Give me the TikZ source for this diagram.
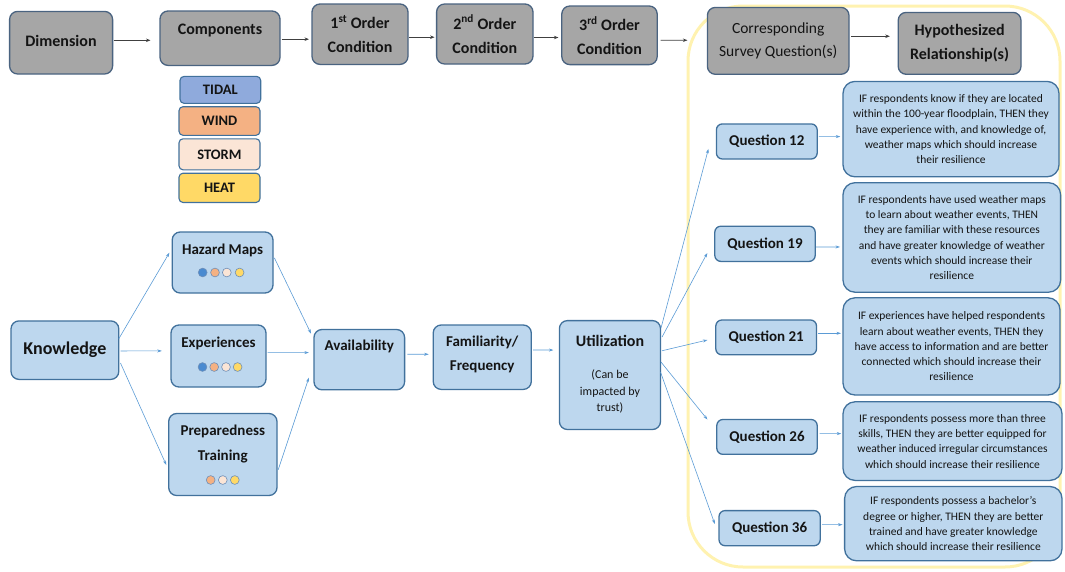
\documentclass[tikz,border=0pt]{standalone}
\usepackage{fontspec}
\setmainfont{Carlito}
\usetikzlibrary{arrows.meta,calc}

\definecolor{boxgray}{HTML}{A6A6A6}
\definecolor{grayedge}{HTML}{4A6380}
\definecolor{boxblue}{HTML}{BDD7EE}
\definecolor{blueedge}{HTML}{41719C}
\definecolor{linkblue}{HTML}{5B9BD5}
\definecolor{tidal}{HTML}{8FAADC}
\definecolor{wind}{HTML}{F4B183}
\definecolor{storm}{HTML}{FBE5D6}
\definecolor{heat}{HTML}{FFD966}
\definecolor{dotblue}{HTML}{4A8AD0}
\definecolor{dotedge}{HTML}{6E8FB8}
\definecolor{frameyellow}{HTML}{FFF2B0}
\definecolor{ink}{HTML}{141414}

\newcommand\fTop{\fontsize{16}{24}\selectfont\bfseries}
\newcommand\fCorr{\fontsize{15.5}{23}\selectfont}
\newcommand\fQ{\fontsize{15}{18}\selectfont\bfseries}
\newcommand\fQtwo{\fontsize{15}{24.2}\selectfont\bfseries}
\newcommand\fHyp{\fontsize{11.5}{15.3}\selectfont}
\newcommand\fLeg{\fontsize{14.5}{17}\selectfont\bfseries}
\newcommand\fKnow{\fontsize{18}{22}\selectfont\bfseries}
\newcommand\fNote{\fontsize{12}{16.3}\selectfont}

\tikzset{
  base/.style={anchor=north west, inner sep=0pt, outer sep=0pt, align=center, text=ink},
  graybox/.style={base, draw=grayedge, line width=1.3pt, fill=boxgray, rounded corners=8pt},
  bluebox/.style={base, draw=blueedge, line width=1.3pt, fill=boxblue, rounded corners=8pt},
  qbox/.style={bluebox, rounded corners=6pt, font=\fQ},
  hypbox/.style={bluebox, rounded corners=12pt, font=\fHyp},
  legbox/.style={base, draw=blueedge, line width=1.1pt, rounded corners=4pt, font=\fLeg},
  wh/.style 2 args={minimum width=#1pt, minimum height=#2pt},
  txt/.style={inner sep=0pt, align=center, text=ink},
  toparrow/.style={draw=black!75, line width=0.8pt, -{Stealth[length=4.5pt,width=3.5pt]}},
  link/.style={draw=linkblue, line width=0.6pt, -{Stealth[length=4.5pt,width=3pt]}},
}

\begin{document}
\begin{tikzpicture}[x=1pt,y=-1pt]
\useasboundingbox (0,0) rectangle (1065,571);

% frame around the survey questions and hypotheses
\draw[frameyellow, line width=3pt, rounded corners=55pt] (688,6) rectangle (1060,567);

% header row
\node[graybox, wh={103}{62.6}] (dim) at (9.6,11.4) {};
\node[txt, font=\fTop] (dimt) at (61,40.5) {Dimension};
\node[graybox, wh={120}{54.4}] (comp) at (160,11) {};
\node[txt, font=\fTop] (compt) at (220,31) {Components};
\node[graybox, wh={96}{60.4}, font=\fTop] (first) at (312,4) {1\textsuperscript{st} Order\\Condition};
\node[graybox, wh={96.4}{60}, font=\fTop] (second) at (436.6,4) {2\textsuperscript{nd} Order\\Condition};
\node[graybox, wh={95.4}{58.6}, font=\fTop] (third) at (561.8,6) {3\textsuperscript{rd} Order\\Condition};
\node[graybox, wh={141.6}{66.9}, font=\fCorr] (corr) at (707.4,7.4) {Corresponding\\Survey Question(s)};
\node[graybox, wh={122.8}{61.9}, font=\fTop] (hyp) at (898.2,12.4) {Hypothesized\\Relationship(s)};

% hazard legend
\node[legbox, fill=tidal, wh={80.7}{26.9}] (tidal) at (180,76.4) {TIDAL};
\node[legbox, fill=wind, wh={81}{28.6}] (wind) at (179,106.7) {WIND};
\node[legbox, fill=storm, wh={81}{31}] (storm) at (179,138.8) {STORM};
\node[legbox, fill=heat, wh={81}{29.3}] (heat) at (179,173.2) {HEAT};

% knowledge chain
\node[bluebox, wh={107.8}{58.5}, font=\fKnow] (know) at (11,320.9) {Knowledge};
\node[bluebox, wh={100.8}{61}] (haz) at (172.2,232) {};
\node[txt, font=\fQ] (hazt) at (222.6,250) {Hazard Maps};
\node[bluebox, wh={95}{62}] (exp) at (171,325) {};
\node[txt, font=\fQ] (expt) at (218.5,343) {Experiences};
\node[bluebox, wh={108.3}{82}] (prep) at (168.7,413.5) {};
\node[txt, font=\fQtwo] (prept) at (222.8,444) {Preparedness\\Training};
\node[bluebox, wh={90.6}{60.3}] (avail) at (314,329.5) {};
\node[txt, font=\fQ] (availt) at (359.3,346.4) {Availability};
\node[bluebox, wh={98.1}{64.4}] (fam) at (433.2,325) {};
\node[txt, font=\fQtwo] (famt) at (482.2,354.5) {Familiarity/\\Frequency};
\node[bluebox, wh={101.1}{108.9}] (util) at (559.4,320.6) {};
\node[txt, font=\fTop] (utilt) at (610,340.5) {Utilization};
\node[txt, font=\fNote] (utiln) at (610,391.7) {(Can be\\impacted by\\trust)};

% hazard dots
\foreach \c/\x in {dotblue/202.7, wind/215, storm/226.8, heat/239.6}
  \filldraw[fill=\c, draw=dotedge, line width=0.6pt] (\x,272.5) circle[radius=4.4pt];
\foreach \c/\x in {dotblue/202.5, wind/214.2, storm/226, heat/237.6}
  \filldraw[fill=\c, draw=dotedge, line width=0.6pt] (\x,367) circle[radius=4.4pt];
\foreach \c/\x in {wind/210.7, storm/222.8, heat/234.8}
  \filldraw[fill=\c, draw=dotedge, line width=0.6pt] (\x,480) circle[radius=4.4pt];

% survey questions
\node[qbox, wh={100.8}{35.1}] (q12) at (716.4,123.9) {Question 12};
\node[qbox, wh={100.4}{35.2}] (q19) at (714.8,226.2) {Question 19};
\node[qbox, wh={100.7}{34.8}] (q21) at (715.8,320) {Question 21};
\node[qbox, wh={100.4}{34.8}] (q26) at (716.8,419.5) {Question 26};
\node[qbox, wh={101.2}{35.1}] (q36) at (719,510.6) {Question 36};

% hypothesized relationships
\node[hypbox, wh={216}{95.4}] (h12) at (843,81.4)
  {IF respondents know if they are located\\within the 100-year floodplain, THEN they\\have experience with, and knowledge of,\\weather maps which should increase\\their resilience};
\node[hypbox, wh={217.6}{109.5}] (h19) at (843,182.7)
  {IF respondents have used weather maps\\to learn about weather events, THEN\\they are familiar with these resources\\and have greater knowledge of weather\\events which should increase their\\resilience};
\node[hypbox, wh={217}{97.2}] (h21) at (843,297.8)
  {IF experiences have helped respondents\\learn about weather events, THEN they\\have access to information and are better\\connected which should increase their\\resilience};
\node[hypbox, wh={219}{78.6}] (h26) at (843,401.8)
  {IF respondents possess more than three\\skills, THEN they are better equipped for\\weather induced irregular circumstances\\which should increase their resilience};
\node[hypbox, wh={217.4}{74.3}] (h36) at (844.6,486.5)
  {IF respondents possess a bachelor’s\\degree or higher, THEN they are better\\trained and have greater knowledge\\which should increase their resilience};

% header connectors
\draw[toparrow] ($(dim.east)+(1,-2.4)$) -- ($(comp.west)+(-9.5,2.1)$);
\draw[toparrow] ($(comp.east)+(1.5,1)$) -- ($(first.west)+(-3,5)$);
\draw[toparrow] ($(first.east)+(1,3)$) -- ($(second.west)+(-2,3.2)$);
\draw[toparrow] ($(second.east)+(1,3.5)$) -- ($(third.west)+(-3.4,2.2)$);
\draw[toparrow] ($(third.east)+(3.3,4.9)$) -- ($(corr.west)+(-20,-0.6)$);
\draw[toparrow] ($(corr.east)+(2.3,-4.6)$) -- ($(hyp.west)+(-8.4,-7.1)$);

% knowledge connectors
\draw[link] ($(know.east)+(0,-11.4)$) -- ($(haz.west)+(-2.8,-9.8)$);
\draw[link] ($(know.east)+(1.7,0.8)$) -- ($(exp.west)+(-9.2,-5.1)$);
\draw[link] ($(know.east)+(1.7,12.9)$) -- ($(prep.west)+(-2.4,10.5)$);
\draw[link] ($(haz.east)+(1.4,-4.6)$) -- ($(avail.west)+(-3,-26.1)$);
\draw[link] ($(exp.east)+(1.6,-3.4)$) -- ($(avail.west)+(-5.1,-7.1)$);
\draw[link] ($(prep.east)+(1.2,15.2)$) -- ($(avail.west)+(-5.1,18)$);
\draw[link] ($(avail.east)+(2.8,-5.4)$) -- ($(fam.west)+(-4.5,-2.9)$);
\draw[link] ($(fam.east)+(1.7,-7.2)$) -- ($(util.west)+(-6,-25)$);

% utilization to survey questions
\draw[link] ($(util.east)+(0.5,-47)$) -- ($(q12.west)+(-8,7.5)$);
\draw[link] ($(util.east)+(1.5,-38)$) -- ($(q19.west)+(-7.5,9.2)$);
\draw[link] ($(util.east)+(1.5,-24.3)$) -- ($(q21.west)+(-8.4,2.6)$);
\draw[link] ($(util.east)+(0.5,-13)$) -- ($(q26.west)+(-9.4,-17.4)$);
\draw[link] ($(util.east)+(0,-3)$) -- ($(q36.west)+(-4.2,-4.2)$);

% survey questions to hypotheses
\draw[link] ($(q12.east)+(1.7,-4.9)$) -- ($(h12.west)+(-2.7,7.5)$);
\draw[link] ($(q19.east)+(0.8,3.2)$) -- ($(h19.west)+(-3,9.5)$);
\draw[link] ($(q21.east)+(1.5,-4.1)$) -- ($(h21.west)+(-2,-13.1)$);
\draw[link] ($(q26.east)+(2.3,-3.3)$) -- ($(h26.west)+(-1.7,-7.5)$);
\draw[link] ($(q36.east)+(1.8,-3.6)$) -- ($(h36.west)+(-2,1)$);
\end{tikzpicture}
\end{document}
